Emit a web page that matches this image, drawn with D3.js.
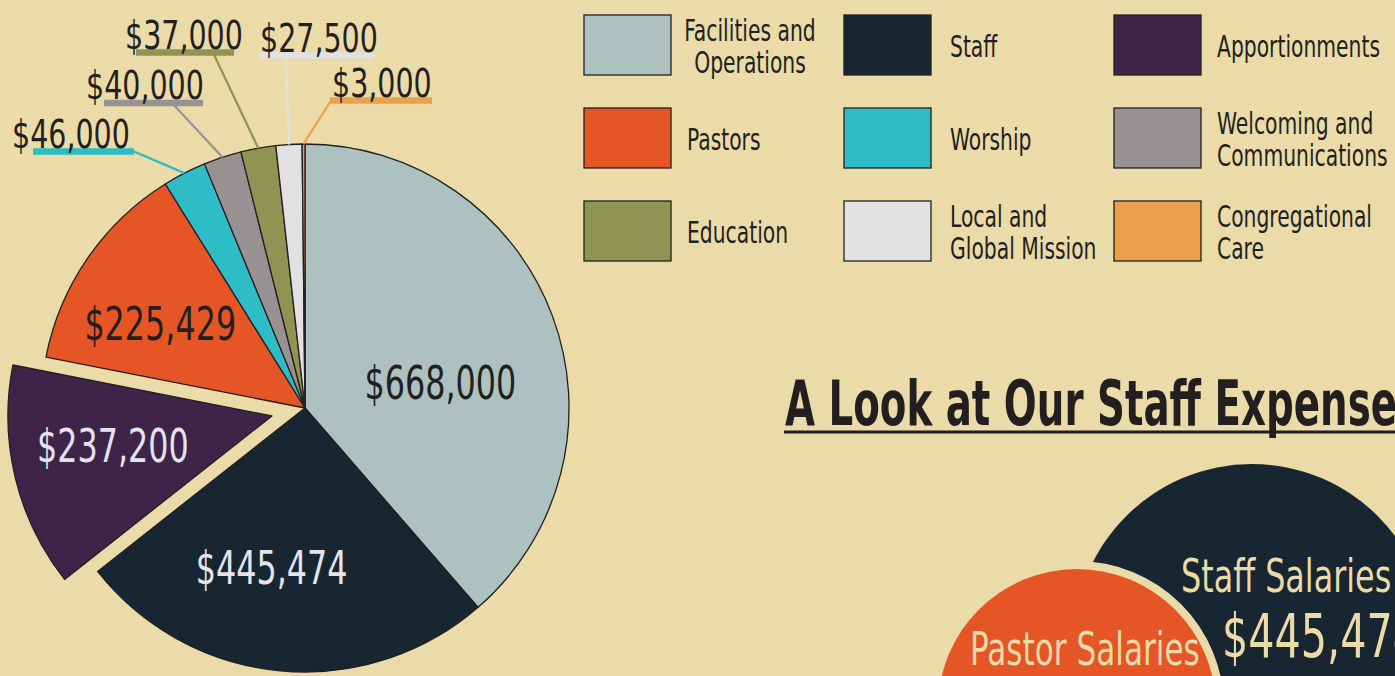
<!DOCTYPE html>
<html>
<head>
<meta charset="utf-8">
<script src="https://cdn.jsdelivr.net/npm/d3@7"></script>
<style>
	body { margin: 0; background: #eadba8; overflow: hidden; }
	text { font-family: 'Liberation Sans Narrow', 'DejaVu Sans Condensed', 'Liberation Sans', sans-serif; }
</style>
</head>
<body>
<svg id="chart" width="1395" height="676"></svg>
<script>

// budget categories, clockwise from 12 o'clock
var categories = ['Facilities and Operations', 'Staff', 'Apportionments', 'Pastors', 'Worship',
	'Welcoming and Communications', 'Education', 'Local and Global Mission', 'Congregational Care'];
var amounts = [668000, 445474, 237200, 225429, 46000, 40000, 37000, 27500, 3000];
var sliceColors = ['#adc1c1', '#182631', '#3e2449', '#e65525', '#2ebcc6',
	'#989292', '#8f9453', '#e1e1e2', '#eba04b'];
var legendLines = [['Facilities and', 'Operations'], ['Staff'], ['Apportionments'], ['Pastors'], ['Worship'],
	['Welcoming and', 'Communications'], ['Education'], ['Local and', 'Global Mission'], ['Congregational', 'Care']];

// staff expenses bubbles
var staffNames = ['Staff Salaries', 'Pastor Salaries'];
var staffAmounts = ['$445,474', ''];

var title = 'A Look at Our Staff Expenses';

var dark = '#231f20';
var cream = '#eadba8';
var fmt = function (v) { return '$' + d3.format(',')(v); };

var svg = d3.select('#chart');

// width factor so the narrow font reads like the condensed face of the original
function measure(str, size, weight) {
	var t = svg.append('text').attr('font-size', size).attr('font-weight', weight || 'normal').text(str);
	var w = t.node().getComputedTextLength();
	t.remove();
	return w;
}
var squeeze = 163 / measure('Apportionments', 30);
// bold title: 'A Look at Our Staff Expense' runs from 785 to the right edge
var squeezeBold = 612 / measure('A Look at Our Staff Expense', 63, 'bold');

function fit(sel, k) {
	k = k || squeeze;
	sel.each(function () {
		var w = this.getComputedTextLength();
		if (w > 0) {
			d3.select(this).attr('textLength', w * k).attr('lengthAdjust', 'spacingAndGlyphs');
		}
	});
	return sel;
}

// ---------- pie ----------
var cx = 305, cy = 408, R = 264;
var explodeIdx = 2, explodeBy = 34;

var pie = d3.pie().sort(null).value(function (d) { return d; });
var arcs = pie(amounts);
var arc = d3.arc().innerRadius(0).outerRadius(R);

function mid(a) { return (a.startAngle + a.endAngle) / 2; }
function polar(ang, r) { return [Math.sin(ang) * r, -Math.cos(ang) * r]; }

var g = svg.append('g').attr('transform', 'translate(' + cx + ',' + cy + ')');

g.selectAll('path.slice')
	.data(arcs)
	.enter().append('path')
	.attr('class', 'slice')
	.attr('d', arc)
	.attr('fill', function (d, i) { return sliceColors[i]; })
	.attr('stroke', dark)
	.attr('stroke-width', 1.3)
	.attr('stroke-linejoin', 'round')
	.attr('transform', function (d, i) {
		if (i !== explodeIdx) return null;
		var p = polar(mid(d), explodeBy);
		return 'translate(' + p[0] + ',' + p[1] + ')';
	});

// value labels inside the big slices
var labelR = R * 0.62;
var innerNudge = [[-18, 32], [-18, -3], [0, -9], [-10, 8]];
var innerColor = [dark, '#e4e4ea', '#e4e4ea', dark];
arcs.slice(0, 4).forEach(function (d, i) {
	var p = polar(mid(d), labelR);
	if (i === explodeIdx) {
		var e = polar(mid(d), explodeBy);
		p = [p[0] + e[0], p[1] + e[1]];
	}
	fit(g.append('text')
		.attr('x', p[0] + innerNudge[i][0])
		.attr('y', p[1] + innerNudge[i][1])
		.attr('dy', '0.35em')
		.attr('text-anchor', 'middle')
		.attr('font-size', 47)
		.attr('fill', innerColor[i])
		.text(fmt(amounts[i])));
});

// callouts for the thin slices: bar under the label, leader to the rim
var callouts = {
	4: { x1: 33, x2: 134, y: 151.5, jx: 134, tx: 12 },
	5: { x1: 104, x2: 203, y: 103, jx: 172, tx: 86 },
	6: { x1: 136, x2: 234, y: 52.5, jx: 213, tx: 125 },
	7: { x1: 259, x2: 374, y: 55.5, jx: 286, tx: 260 },
	8: { x1: 330, x2: 432, y: 100.5, jx: 331, tx: 332 }
};
d3.range(4, amounts.length).forEach(function (i) {
	var c = callouts[i];
	var rim = polar(mid(arcs[i]), R);
	svg.append('line')
		.attr('x1', cx + rim[0]).attr('y1', cy + rim[1])
		.attr('x2', c.jx).attr('y2', c.y)
		.attr('stroke', sliceColors[i])
		.attr('stroke-width', 2.2);
	svg.append('line')
		.attr('x1', c.x1).attr('x2', c.x2)
		.attr('y1', c.y).attr('y2', c.y)
		.attr('stroke', sliceColors[i])
		.attr('stroke-width', 6.5);
	fit(svg.append('text')
		.attr('x', c.tx)
		.attr('y', c.y - 4)
		.attr('font-size', 39)
		.attr('fill', dark)
		.text(fmt(amounts[i])), squeeze * 1.08);
});

// ---------- legend ----------
var legX = [584, 844, 1114], legTextX = [687, 950, 1217];
var legY0 = 15, legStep = 93, swW = 87, swH = 60;

categories.forEach(function (name, i) {
	var col = i % 3, row = Math.floor(i / 3);
	var y = legY0 + row * legStep;
	svg.append('rect')
		.attr('x', legX[col]).attr('y', y)
		.attr('width', swW).attr('height', swH)
		.attr('fill', sliceColors[i])
		.attr('stroke', dark)
		.attr('stroke-width', 1.3);
	var lines = legendLines[i];
	var center = (i === 0);
	var mY = y + swH / 2;
	lines.forEach(function (ln, k) {
		var base = lines.length === 1 ? mY + 12 : mY - 4 + k * 32;
		fit(svg.append('text')
			.attr('x', center ? legTextX[col] + 63 : legTextX[col])
			.attr('y', base)
			.attr('text-anchor', center ? 'middle' : 'start')
			.attr('font-size', 30)
			.attr('fill', dark)
			.text(ln));
	});
});

// ---------- staff expenses ----------
fit(svg.append('text')
	.attr('x', 785)
	.attr('y', 425)
	.attr('font-size', 63)
	.attr('font-weight', 'bold')
	.attr('fill', dark)
	.text(title), squeezeBold);
svg.append('line')
	.attr('x1', 784).attr('x2', 1395)
	.attr('y1', 432).attr('y2', 432)
	.attr('stroke', dark)
	.attr('stroke-width', 3);

var bubbles = [
	{ x: 1252, y: 642, r: 178, fill: '#182631' },
	{ x: 1077, y: 708, r: 139, fill: '#e65525' }
];
bubbles.forEach(function (b, i) {
	if (i > 0) {
		svg.append('circle').attr('cx', b.x).attr('cy', b.y).attr('r', b.r + 8).attr('fill', cream);
	}
	svg.append('circle').attr('cx', b.x).attr('cy', b.y).attr('r', b.r).attr('fill', b.fill);
});

fit(svg.append('text')
	.attr('x', 1181).attr('y', 592)
	.attr('font-size', 47)
	.attr('fill', cream)
	.text(staffNames[0]));
fit(svg.append('text')
	.attr('x', 1222).attr('y', 657)
	.attr('font-size', 61)
	.attr('fill', cream)
	.text(staffAmounts[0]));
fit(svg.append('text')
	.attr('x', 970).attr('y', 665)
	.attr('font-size', 46)
	.attr('fill', cream)
	.text(staffNames[1]));

</script>
</body>
</html>
